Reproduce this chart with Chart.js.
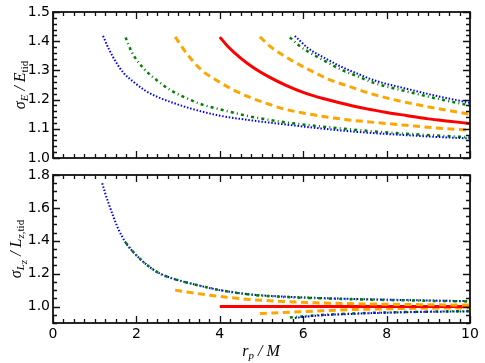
<!DOCTYPE html>
<html>
<head>
<meta charset="utf-8">
<script src="https://cdn.jsdelivr.net/npm/chart.js@4.4.1/dist/chart.umd.min.js"></script>
<style>
  body { margin: 0; background: #fff; }
  #wrap { position: relative; width: 485px; height: 363px; overflow: hidden; }
  canvas { position: absolute; left: 0; }
  .lbl { position: absolute; white-space: nowrap; font-family: "Liberation Serif", serif; font-style: italic; font-size: 16px; color: #000; }
  .rot { transform: translate(-50%, -50%) rotate(-90deg); }
  .hor { transform: translate(-50%, -50%); }
  .lbl sub { font-size: 11px; vertical-align: -3px; }
  .up { font-style: normal; }
</style>
</head>
<body>
<div id="wrap">
  <canvas id="topChart" width="485" height="170" style="top:0"></canvas>
  <canvas id="bottomChart" width="485" height="203" style="top:160px"></canvas>
  <div class="lbl rot" style="left:20px; top:85px">σ<sub>E</sub> / E<sub class="up">tid</sub></div>
  <div class="lbl rot" style="left:18px; top:249px">σ<sub>L<sub>z</sub></sub> / L<sub>z<span class="up">,tid</span></sub></div>
  <div class="lbl hor" style="left:261px; top:351px">r<sub>p</sub> / M</div>
</div>
<script>
// tick labels
const xTicks = [0, 2, 4, 6, 8, 10]
const topYTicks = [1.0, 1.1, 1.2, 1.3, 1.4, 1.5]
const bottomYTicks = [1.0, 1.2, 1.4, 1.6, 1.8]

// top panel: sigma_E / E_tid
const rpBlueInE = [1.2, 1.35, 1.53, 1.7, 1.93, 2.2, 2.49, 2.9, 3.29, 4.0, 4.7, 5.5, 6.3, 7.0, 7.7, 8.5, 9.2, 10]
const sigEBlueIn = [1.418, 1.37, 1.324, 1.29, 1.261, 1.232, 1.21, 1.188, 1.17, 1.145, 1.13, 1.116, 1.103, 1.093, 1.085, 1.078, 1.072, 1.067]
const rpGreenInE = [1.74, 1.9, 2.17, 2.5, 2.81, 3.2, 3.6, 4.0, 4.7, 5.48, 6.3, 7.0, 7.7, 8.48, 9.2, 10]
const sigEGreenIn = [1.413, 1.36, 1.307, 1.265, 1.233, 1.205, 1.182, 1.167, 1.143, 1.124, 1.110, 1.100, 1.091, 1.083, 1.077, 1.071]
const rpOrangeInE = [2.93, 3.2, 3.57, 3.96, 4.3, 4.68, 5.1, 5.48, 6.28, 7.0, 7.7, 8.48, 9.2, 10]
const sigEOrangeIn = [1.415, 1.359, 1.30, 1.263, 1.235, 1.21, 1.188, 1.170, 1.147, 1.132, 1.122, 1.112, 1.103, 1.095]
const rpRedE = [4.0, 4.2, 4.5, 4.8, 5.2, 5.6, 6.0, 6.5, 7.0, 7.5, 8.0, 8.5, 9.0, 9.5, 10]
const sigERed = [1.414, 1.381, 1.342, 1.31, 1.276, 1.248, 1.225, 1.203, 1.185, 1.169, 1.156, 1.145, 1.134, 1.126, 1.118]
const rpOrangeOutE = [4.96, 5.2, 5.48, 5.9, 6.28, 6.6, 7.0, 7.68, 8.48, 9.28, 10]
const sigEOrangeOut = [1.415, 1.383, 1.355, 1.32, 1.292, 1.27, 1.25, 1.218, 1.19, 1.168, 1.15]
const rpGreenOutE = [5.68, 5.9, 6.12, 6.6, 6.92, 7.3, 7.68, 8.48, 9.28, 10]
const sigEGreenOut = [1.413, 1.385, 1.364, 1.326, 1.302, 1.28, 1.258, 1.228, 1.201, 1.18]
const rpBlueOutE = [5.8, 6.12, 6.6, 6.92, 7.3, 7.68, 8.48, 9.28, 10]
const sigEBlueOut = [1.418, 1.376, 1.336, 1.312, 1.289, 1.267, 1.237, 1.21, 1.189]

// bottom panel: sigma_Lz / L_z,tid
const rpBlueInL = [1.18, 1.25, 1.33, 1.45, 1.57, 1.74, 1.93, 2.13, 2.33, 2.57, 2.85, 3.12, 3.5, 4.0, 4.72, 5.5, 6.3, 7.12, 8.0, 9.0, 10]
const sigLBlueIn = [1.75, 1.69, 1.63, 1.545, 1.47, 1.39, 1.33, 1.28, 1.238, 1.20, 1.172, 1.152, 1.128, 1.10, 1.074, 1.061, 1.053, 1.047, 1.042, 1.037, 1.033]
const rpGreenInL = [1.74, 1.93, 2.13, 2.33, 2.57, 2.85, 3.12, 3.5, 4.0, 4.72, 5.5, 6.3, 7.12, 8.0, 9.0, 10]
const sigLGreenIn = [1.39, 1.33, 1.28, 1.238, 1.20, 1.172, 1.152, 1.128, 1.10, 1.073, 1.059, 1.051, 1.045, 1.04, 1.035, 1.031]
const rpOrangeInL = [2.93, 3.3, 3.7, 4.17, 4.72, 5.5, 6.3, 7.12, 8.0, 9.0, 10]
const sigLOrangeIn = [1.10, 1.085, 1.071, 1.057, 1.043, 1.031, 1.023, 1.018, 1.014, 1.011, 1.009]
const rpRedL = [4, 5, 6, 7, 8, 9, 10]
const sigLRed = [1.0, 1.0, 1.0, 1.0, 1.0, 1.0, 1.0]
const rpOrangeOutL = [4.96, 5.52, 6.32, 7.12, 8.0, 9.0, 10]
const sigLOrangeOut = [0.958, 0.964, 0.973, 0.981, 0.986, 0.99, 0.992]
const rpGreenOutL = [5.68, 6.32, 7.12, 8.0, 9.0, 10]
const sigLGreenOut = [0.933, 0.947, 0.957, 0.964, 0.969, 0.972]
const rpBlueOutL = [5.8, 6.32, 7.12, 8.0, 9.0, 10]
const sigLBlueOut = [0.931, 0.945, 0.955, 0.963, 0.968, 0.971]

const blueDot = { borderColor: '#0000ff', borderWidth: 2, borderDash: [1.5, 1.8] }
const greenDashDot = { borderColor: '#008000', borderWidth: 2.5, borderDash: [3, 3.2, 1, 3.2] }
const orangeDash = { borderColor: '#ffa500', borderWidth: 3, borderDash: [7, 4.5] }
const redSolid = { borderColor: '#ff0000', borderWidth: 3 }

function pts(xs, ys) {
  return xs.map((x, i) => ({ x: x, y: ys[i] }))
}

function line(xs, ys, style) {
  return Object.assign({
    data: pts(xs, ys),
    pointRadius: 0,
    fill: false,
    cubicInterpolationMode: 'monotone'
  }, style)
}

function isMultiple(v, step) {
  const r = v / step
  return Math.abs(r - Math.round(r)) < 1e-6
}

// matplotlib style frame with ticks pointing inward on all sides
const frameTicks = {
  id: 'frameTicks',
  afterDraw(chart, args, opts) {
    const ctx = chart.ctx
    const a = chart.chartArea
    const x = chart.scales.x
    const y = chart.scales.y
    ctx.save()
    ctx.strokeStyle = '#111'
    ctx.lineWidth = 1.3
    ctx.beginPath()
    let n = Math.round((x.max - x.min) / opts.xMinor)
    for (let i = 0; i <= n; i++) {
      const v = x.min + i * opts.xMinor
      const px = Math.round(x.getPixelForValue(v)) + 0.5
      const len = isMultiple(v, opts.xMajor) ? 7 : 4
      ctx.moveTo(px, a.bottom); ctx.lineTo(px, a.bottom - len)
      ctx.moveTo(px, a.top); ctx.lineTo(px, a.top + len)
    }
    n = Math.round((y.max - y.min) / opts.yMinor)
    for (let i = 0; i <= n; i++) {
      const v = y.min + i * opts.yMinor
      const py = Math.round(y.getPixelForValue(v)) + 0.5
      const len = isMultiple(v, opts.yMajor) ? 7 : 4
      ctx.moveTo(a.left, py); ctx.lineTo(a.left + len, py)
      ctx.moveTo(a.right, py); ctx.lineTo(a.right - len, py)
    }
    ctx.stroke()
    ctx.lineWidth = 1.8
    ctx.strokeRect(a.left, a.top, a.right - a.left, a.bottom - a.top)
    ctx.restore()
  }
}

Chart.defaults.font.family = 'DejaVu Sans'
Chart.defaults.font.size = 14
Chart.defaults.color = '#000'

function makeChart(id, datasets, yMin, yMax, yTicks, showX, xHeight, padTop, tickOpts) {
  return new Chart(document.getElementById(id), {
    type: 'line',
    data: { datasets: datasets },
    plugins: [frameTicks],
    options: {
      responsive: false,
      animation: false,
      devicePixelRatio: 1,
      layout: { padding: { left: 0, right: 15, top: padTop, bottom: 0 } },
      plugins: { legend: { display: false }, tooltip: { enabled: false }, frameTicks: tickOpts },
      scales: {
        x: {
          type: 'linear',
          min: 0,
          max: 10,
          afterBuildTicks: s => { s.ticks = xTicks.map(v => ({ value: v })) },
          afterFit: s => { s.height = xHeight },
          ticks: { display: showX, padding: 3, maxRotation: 0 },
          grid: { display: false, drawTicks: false },
          border: { display: false }
        },
        y: {
          min: yMin,
          max: yMax,
          afterBuildTicks: s => { s.ticks = yTicks.map(v => ({ value: v })) },
          afterFit: s => { s.width = 53 },
          ticks: { padding: 3, callback: v => v.toFixed(1) },
          grid: { display: false, drawTicks: false },
          border: { display: false }
        }
      }
    }
  })
}

makeChart('topChart', [
  line(rpBlueInE, sigEBlueIn, blueDot),
  line(rpGreenInE, sigEGreenIn, greenDashDot),
  line(rpOrangeInE, sigEOrangeIn, orangeDash),
  line(rpRedE, sigERed, redSolid),
  line(rpOrangeOutE, sigEOrangeOut, orangeDash),
  line(rpBlueOutE, sigEBlueOut, blueDot),
  line(rpGreenOutE, sigEGreenOut, greenDashDot)
], 1.0, 1.5, topYTicks, false, 12, 12, { xMinor: 0.25, xMajor: 2, yMinor: 0.02, yMajor: 0.1 })

makeChart('bottomChart', [
  line(rpGreenInL, sigLGreenIn, greenDashDot),
  line(rpBlueInL, sigLBlueIn, blueDot),
  line(rpOrangeInL, sigLOrangeIn, orangeDash),
  line(rpRedL, sigLRed, redSolid),
  line(rpOrangeOutL, sigLOrangeOut, orangeDash),
  line(rpBlueOutL, sigLBlueOut, blueDot),
  line(rpGreenOutL, sigLGreenOut, greenDashDot)
], 0.9, 1.8, bottomYTicks, true, 40, 15, { xMinor: 0.25, xMajor: 2, yMinor: 0.05, yMajor: 0.2 })
</script>
</body>
</html>
